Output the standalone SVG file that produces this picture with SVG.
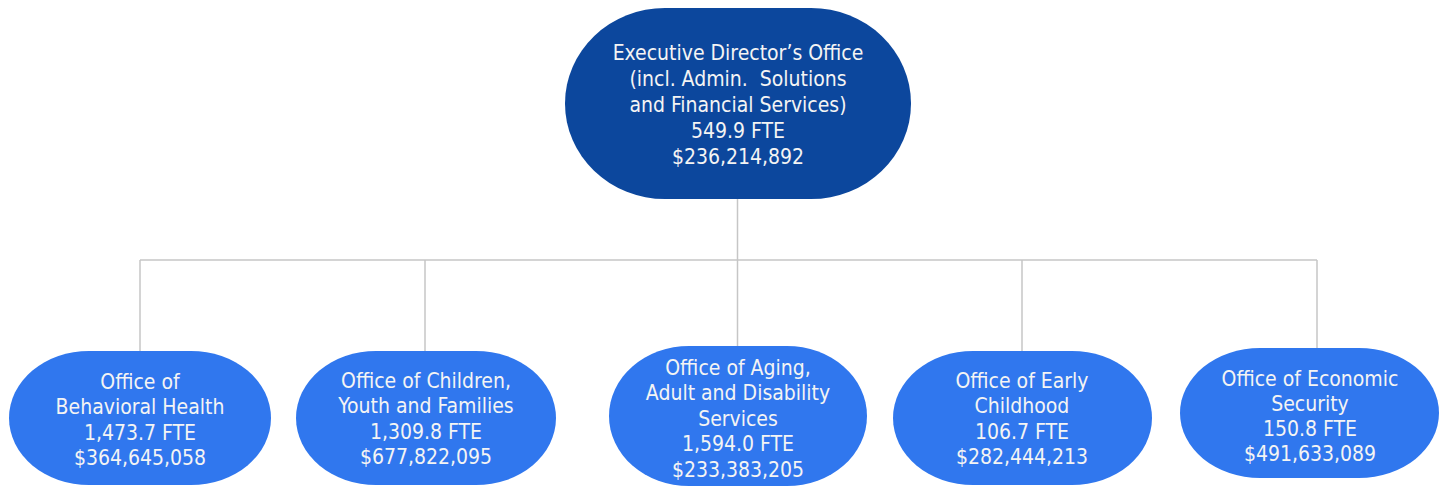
<svg xmlns="http://www.w3.org/2000/svg" width="1443" height="486" viewBox="0 0 1443 486">
<style>
.top{fill:#0c479d}
.sub{fill:#3077ee}
text{font-family:"DejaVu Sans Condensed","DejaVu Sans",sans-serif;font-stretch:condensed;font-size:21px;fill:#f4f4f4;text-anchor:middle}
.ln{stroke:#c6c6c6;stroke-width:1.5;fill:none}
</style>
<rect width="1443" height="486" fill="#ffffff"/>
<g id="connectors">
<path class="ln" d="M737.5 199V260M140 260H1317M140 260V351M425 260V351M737.5 260V346M1022 260V351M1317 260V348"/>
</g>
<g id="exec">
<rect class="top" x="565" y="8" width="346" height="191" rx="100" ry="95.5"/>
<text x="738" y="60">Executive Director’s Office</text>
<text x="738" y="86">(incl. Admin.&#160; Solutions</text>
<text x="738" y="112">and Financial Services)</text>
<text x="738" y="138">549.9 FTE</text>
<text x="738" y="164">$236,214,892</text>
</g>
<g id="obh">
<rect class="sub" x="9" y="351" width="262" height="134" rx="80" ry="67"/>
<text x="140" y="389">Office of</text>
<text x="140" y="414">Behavioral Health</text>
<text x="140" y="440">1,473.7 FTE</text>
<text x="140" y="465">$364,645,058</text>
</g>
<g id="ocyf">
<rect class="sub" x="296" y="351" width="260" height="134" rx="80" ry="67"/>
<text x="426" y="388">Office of Children,</text>
<text x="426" y="413">Youth and Families</text>
<text x="426" y="439">1,309.8 FTE</text>
<text x="426" y="464">$677,822,095</text>
</g>
<g id="oaads">
<rect class="sub" x="609" y="346" width="258" height="140" rx="80" ry="70"/>
<text x="738" y="375">Office of Aging,</text>
<text x="738" y="400">Adult and Disability</text>
<text x="738" y="426">Services</text>
<text x="738" y="451">1,594.0 FTE</text>
<text x="738" y="477">$233,383,205</text>
</g>
<g id="oec">
<rect class="sub" x="893" y="351" width="259" height="134" rx="80" ry="67"/>
<text x="1022" y="388">Office of Early</text>
<text x="1022" y="413">Childhood</text>
<text x="1022" y="439">106.7 FTE</text>
<text x="1022" y="464">$282,444,213</text>
</g>
<g id="oes">
<rect class="sub" x="1180" y="348" width="259" height="130" rx="80" ry="65"/>
<text x="1310" y="386">Office of Economic</text>
<text x="1310" y="411">Security</text>
<text x="1310" y="436">150.8 FTE</text>
<text x="1310" y="461">$491,633,089</text>
</g>
</svg>
